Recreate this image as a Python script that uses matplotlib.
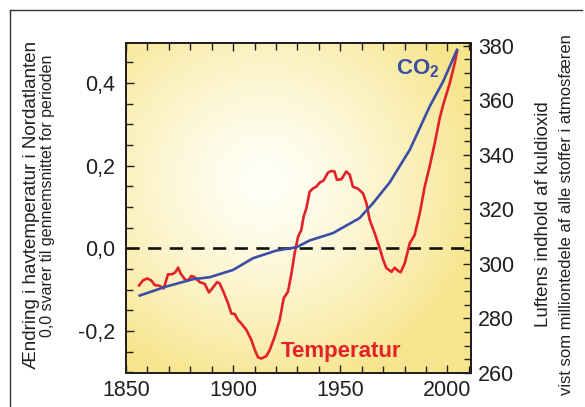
import numpy as np
import matplotlib
matplotlib.use("Agg")
import matplotlib.pyplot as plt
from matplotlib.lines import Line2D
from matplotlib.ticker import MultipleLocator, FuncFormatter

plt.rcParams['font.family'] = ['Liberation Sans', 'DejaVu Sans']
plt.rcParams['mathtext.fontset'] = 'custom'
plt.rcParams['mathtext.rm'] = 'Liberation Sans'
plt.rcParams['mathtext.bf'] = 'Liberation Sans:bold'

# ---- data ----
temp_years = [1856.1, 1857.9, 1859.9, 1861.8, 1863.4, 1865.7, 1867.6, 1868.8, 1869.6, 1871.6,
              1873.2, 1874.3, 1875.5, 1877.4, 1879.0, 1880.5, 1882.0, 1884.4, 1886.7, 1888.7,
              1890.6, 1892.5, 1893.7, 1895.6, 1897.6, 1899.2, 1900.7, 1902.3, 1903.8, 1906.2,
              1908.5, 1910.1, 1911.6, 1913.2, 1915.5, 1917.1, 1919.4, 1921.7, 1923.6, 1925.6,
              1927.2, 1928.7, 1930.3, 1931.8, 1932.9, 1934.2, 1935.7, 1937.3, 1938.8, 1940.4,
              1942.2, 1944.2, 1945.8, 1947.3, 1948.4, 1950.5, 1952.8, 1954.4, 1955.9, 1958.3,
              1960.6, 1962.2, 1963.7, 1966.1, 1968.4, 1970.0, 1971.5, 1973.9, 1975.4, 1977.0,
              1978.2, 1980.1, 1982.4, 1984.7, 1987.1, 1989.4, 1991.7, 1994.1, 1996.4, 1998.0,
              2001.1, 2003.4, 2004.5]
temp_values = [-0.090, -0.078, -0.073, -0.078, -0.089, -0.091, -0.097, -0.077, -0.063, -0.063,
               -0.057, -0.047, -0.061, -0.075, -0.078, -0.067, -0.070, -0.082, -0.086, -0.107,
               -0.095, -0.082, -0.085, -0.107, -0.133, -0.158, -0.159, -0.174, -0.182, -0.198,
               -0.222, -0.246, -0.264, -0.267, -0.261, -0.246, -0.214, -0.174, -0.121, -0.105,
               -0.061, -0.012, 0.028, 0.044, 0.077, 0.097, 0.137, 0.145, 0.149, 0.159,
               0.164, 0.183, 0.187, 0.186, 0.166, 0.167, 0.186, 0.178, 0.149, 0.144,
               0.133, 0.109, 0.069, 0.036, 0.000, -0.028, -0.048, -0.057, -0.047, -0.055,
               -0.058, -0.036, 0.012, 0.032, 0.085, 0.149, 0.198, 0.255, 0.315, 0.347,
               0.400, 0.448, 0.477]

co2_years = [1856.4, 1868.8, 1881.3, 1889.0, 1900.0, 1909.3, 1920.2, 1929.5, 1935.7, 1946.6,
             1959.0, 1965.3, 1973.0, 1982.4, 1991.7, 1998.0, 2004.5]
co2_values = [288.4, 291.7, 294.4, 295.1, 297.8, 302.1, 304.9, 306.1, 308.6, 311.3,
              316.8, 322.3, 329.8, 341.8, 357.7, 366.9, 378.5]

x_ticks = [1850, 1900, 1950, 2000]
temp_ticks = [-0.2, 0.0, 0.2, 0.4]
co2_ticks = [260, 280, 300, 320, 340, 360, 380]

RED = '#e42128'
BLUE = '#3b4ea6'
TXT = '#231f20'

W, H = 585, 407
fig = plt.figure(figsize=(W / 100, H / 100), dpi=100)
fig.patch.set_facecolor('white')

L, R, T, B = 126, 471, 43, 373
ax = fig.add_axes([L / W, 1 - B / H, (R - L) / W, (B - T) / H])
ax.set_xlim(1850, 2011)
ax.set_ylim(-0.302, 0.497)

# radial gradient background
ny, nx = 200, 200
yy, xx = np.mgrid[0:1:ny * 1j, 0:1:nx * 1j]
d = np.sqrt(((xx - 0.40) / 0.75) ** 2 + ((yy - 0.58) / 0.75) ** 2)
d = np.clip(d / 0.85, 0, 1)
c0 = np.array([1.0, 1.0, 0.97])
c1 = np.array([0.97, 0.90, 0.56])
w = d[..., None] ** 1.4
img = c0[None, None, :] * (1 - w) + c1[None, None, :] * w
ax.imshow(img, extent=[0, 1, 0, 1], transform=ax.transAxes, origin='lower',
          aspect='auto', zorder=0, interpolation='bilinear')

ax.axhline(0, color='#111111', lw=1.9, dashes=(5, 3.2), zorder=2)
ax.plot(temp_years, temp_values, color=RED, lw=1.9, zorder=3, solid_joinstyle='round')

ax2 = ax.twinx()
ax2.set_ylim(260, 381)
ax2.plot(co2_years, co2_values, color=BLUE, lw=1.9, zorder=4, solid_joinstyle='round')

comma = FuncFormatter(lambda v, p: f"{v:.1f}".replace('.', ','))
ax.set_xticks(x_ticks)
ax.xaxis.set_minor_locator(MultipleLocator(10))
ax.set_yticks(temp_ticks)
ax.yaxis.set_major_formatter(comma)
ax.yaxis.set_minor_locator(MultipleLocator(0.05))
ax2.set_yticks(co2_ticks)
ax2.yaxis.set_minor_locator(MultipleLocator(5))

for a in (ax, ax2):
    for s in a.spines.values():
        s.set_color('#231f20')
        s.set_linewidth(1.4)

ax.tick_params(axis='both', which='both', direction='in', colors=TXT, labelsize=15.5,
               width=1.0, top=True, right=False)
ax.tick_params(axis='both', which='major', length=5.5)
ax.tick_params(axis='both', which='minor', length=5)
ax.tick_params(axis='x', pad=5)
ax.tick_params(axis='y', pad=8)
ax2.tick_params(axis='y', which='both', direction='in', colors=TXT, labelsize=15.5,
                width=1.0, pad=5)
ax2.tick_params(axis='y', which='major', length=5.5)
ax2.tick_params(axis='y', which='minor', length=5)

# series labels
ax.text(1976.0, 0.421, r'$\mathbf{CO}_{\mathbf{2}}$', color=BLUE, fontsize=16,
        ha='left', va='baseline', zorder=5)
ax.text(1950.5, -0.251, 'Temperatur', color=RED, fontsize=16, fontweight='bold',
        ha='center', va='center', zorder=5)

# axis titles
fig.text(31.7 / W, 1 - 205 / H, 'Ændring i havtemperatur i Nordatlanten', rotation=90,
         ha='center', va='center', fontsize=13.5, color=TXT)
fig.text(47.5 / W, 1 - 196 / H, '0,0 svarer til gennemsnittet for perioden', rotation=90,
         ha='center', va='center', fontsize=11.5, color=TXT)
fig.text(544 / W, 1 - 214 / H, 'Luftens indhold af kuldioxid', rotation=90,
         ha='center', va='center', fontsize=13.5, color=TXT)
fig.text(566.5 / W, 1 - 215 / H, 'vist som milliontedele af alle stoffer i atmosfæren',
         rotation=90, ha='center', va='center', fontsize=12, color=TXT)

# outer frame lines
fig.add_artist(Line2D([10 / W, 582 / W], [1 - 10 / H, 1 - 10 / H], color='#333333', lw=1.0,
                      transform=fig.transFigure))
fig.add_artist(Line2D([10 / W, 10 / W], [0, 1 - 10 / H], color='#333333', lw=1.0,
                      transform=fig.transFigure))

fig.savefig('out.png', dpi=100)
